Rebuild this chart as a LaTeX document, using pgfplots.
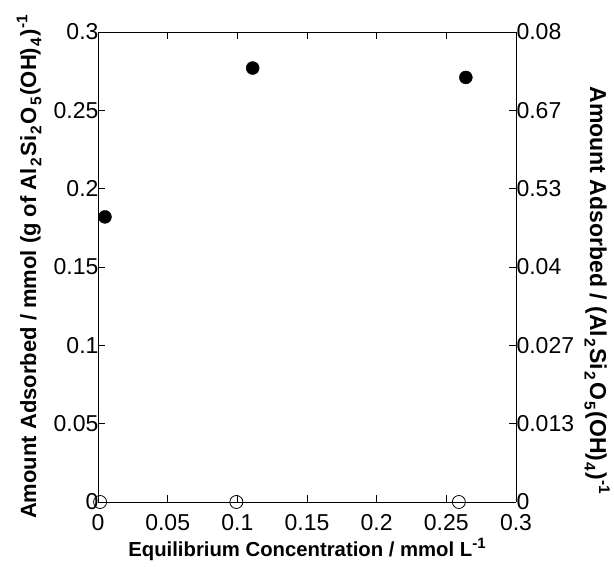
\documentclass[border=0pt]{standalone}
\usepackage{fontspec}
\setmainfont{Liberation Sans}
\usepackage{pgfplots}
\pgfplotsset{compat=1.18}
\newcommand{\mysub}[1]{\kern1.5pt\raisebox{-0.45ex}{\fontsize{15.5}{17}\selectfont #1}\kern1.5pt}
\newcommand{\mysup}[1]{\raisebox{0.75ex}{\fontsize{15}{17}\selectfont #1}}
\newcommand{\mysupy}[1]{\raisebox{0.75ex}{\fontsize{15.5}{17}\selectfont #1}}
\begin{document}
\begin{tikzpicture}
\pgfplotsset{
  common/.style={
    scale only axis, width=418pt, height=470pt,
    anchor=origin, at={(0pt,0pt)},
    xmin=0, xmax=0.3, ymin=0, ymax=0.3,
    tick align=inside, major tick length=7pt,
    tick style={black, line width=0.8pt},
    axis line style={line width=0.8pt},
    /pgf/number format/assume math mode=true,
    clip=false,
  }
}
\begin{axis}[common,
  xtick={0,0.05,...,0.3},
  xticklabels={0,0.05,0.1,0.15,0.2,0.25,0.3},
  ytick={0,0.05,...,0.3},
  yticklabels={0,0.05,0.1,0.15,0.2,0.25,0.3},
  xticklabel style={yshift=-9pt, font=\fontsize{23}{25}\selectfont},
  yticklabel style={xshift=4pt, font=\fontsize{23}{25}\selectfont},
  xlabel={\textbf{Equilibrium Concentration / mmol L\mysup{-1}}},
  xlabel style={at={(axis description cs:0.5,-0.1)}, anchor=center, font=\fontsize{20.3}{22}\selectfont},
  ylabel={\textbf{Amount Adsorbed / mmol (g of Al\mysub{2}Si\mysub{2}O\mysub{5}(OH)\mysub{4})\mysupy{-1}}},
  ylabel style={at={(axis description cs:-0.165,0.5)}, anchor=center, rotate=0, font=\fontsize{22}{24}\selectfont},
  axis y line*=left, axis x line*=box,
]
\addplot[only marks, mark=*, mark size=6.5pt, black] coordinates {
  (0.005,0.182) (0.111,0.277) (0.264,0.271)
};
\addplot[only marks, mark=o, mark size=6.5pt, black, mark options={line width=0.8pt}] coordinates {
  (0.0015,0) (0.0993,0) (0.259,0)
};
\end{axis}
\begin{axis}[common,
  axis y line*=right, axis x line=none,
  ytick={0,0.05,...,0.3},
  yticklabels={0,0.013,0.027,0.04,0.53,0.67,0.08},
  yticklabel style={xshift=-3pt, font=\fontsize{23}{25}\selectfont},
  ylabel={\textbf{Amount Adsorbed / (Al\mysub{2}Si\mysub{2}O\mysub{5}(OH)\mysub{4})\mysupy{-1}}},
  ylabel style={at={(axis description cs:1.194,0.45)}, anchor=center, rotate=180, font=\fontsize{23}{25}\selectfont},
]
\end{axis}
\pgfresetboundingbox
\useasboundingbox (-98pt,-64pt) rectangle (516pt,502pt);
\end{tikzpicture}
\end{document}
